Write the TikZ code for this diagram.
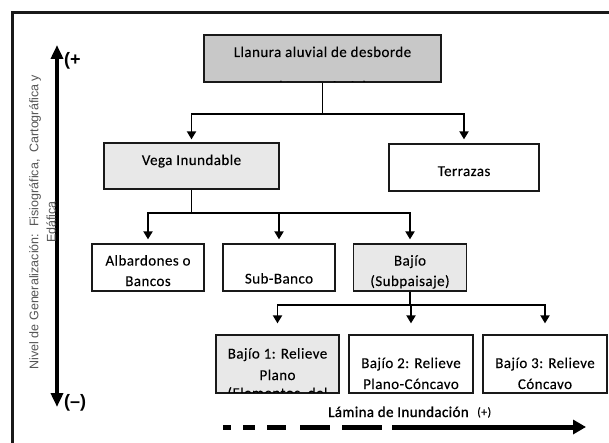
\documentclass[tikz,border=0pt]{standalone}
\usepackage{fontspec}
\setmainfont{Carlito}
\newfontfamily\boxfont{Carlito}[LetterSpace=3, FakeBold=0.15]
\newfontfamily\sheetfont{Carlito}[LetterSpace=2.5, FakeBold=1.3]
\newfontfamily\axisfont{Liberation Sans}
\usetikzlibrary{arrows.meta,calc}

\definecolor{graybox}{RGB}{200,200,200}
\definecolor{lightbox}{RGB}{232,232,232}
\definecolor{edge}{RGB}{25,25,25}
\definecolor{labelgray}{RGB}{85,85,85}

\tikzset{
  box/.style={draw=edge, line width=1.2pt, inner sep=0pt, fill=white},
  txt/.style={font=\boxfont\fontsize{15}{18}\selectfont, anchor=base, inner sep=0pt, text=black},
  conn/.style={line width=1.8pt, draw=black},
  arr/.style={conn, -{Triangle[width=9pt,length=8pt]}},
  frameline/.style={line width=3pt, draw=edge},
  axistext/.style={font=\axisfont\fontsize{12.5}{14}\selectfont, text=labelgray, rotate=90, inner sep=0pt},
  signtext/.style={font=\axisfont\bfseries\fontsize{18}{20}\selectfont, anchor=west, inner sep=0pt},
}

\begin{document}
\begin{tikzpicture}[x=1pt,y=-1pt]
\useasboundingbox (0,0) rectangle (609,443);
\fill[white] (0,0) rectangle (609,443);

% outer frame (open to the right and bottom)
\coordinate (fbot) at (12.5,443);
\coordinate (fcorner) at (12.5,13);
\coordinate (fright) at (609,13);
\draw[frameline] (fbot) -- (fcorner) -- (fright);

% ---------- boxes ----------
\node[box, fill=graybox, minimum width=237pt, minimum height=47pt] (top) at (322.5,58.5) {};
\node[box, fill=lightbox, minimum width=175pt, minimum height=46pt] (vega) at (191.5,166) {};
\node[box, minimum width=150pt, minimum height=47pt] (terr) at (464,167.5) {};
\node[box, minimum width=112pt, minimum height=47pt] (alb) at (148,267.5) {};
\node[box, minimum width=112pt, minimum height=47pt] (sub) at (279,267.5) {};
\node[box, fill=lightbox, minimum width=113pt, minimum height=47pt] (baj) at (410,267.5) {};
\node[box, fill=lightbox, minimum width=123pt, minimum height=58pt] (b1) at (277.5,364) {};
\node[box, minimum width=124pt, minimum height=58pt] (b2) at (411,364) {};
\node[box, minimum width=124pt, minimum height=58pt] (b3) at (545,364) {};

% ---------- box texts ----------
\node[txt] (tTopA) at (322.5,57) {Llanura aluvial de desborde};
\begin{scope}
  \clip (top.north west) rectangle (top.south east);
  \node[txt] (tTopB) at (322.5,91.5) {(Gran Paisaje)};
\end{scope}
\draw[edge, line width=1.2pt] (top.south west) -- (top.south east);

\node[txt] (tVegaA) at (191.5,165) {Vega Inundable};
\begin{scope}
  \clip (vega.north west) rectangle (vega.south east);
  \node[txt] (tVegaB) at (191.5,200) {(Paisaje)};
\end{scope}
\draw[edge, line width=1.2pt] (vega.south west) -- (vega.south east);

\node[txt] (tTerr) at (464,176) {Terrazas};
\node[txt] (tAlbA) at (148,265.5) {Albardones o};
\node[txt] (tAlbB) at (148,286) {Bancos};
\node[txt] (tSub) at (279,283.5) {Sub-Banco};
\node[txt] (tBajA) at (410,265.5) {Bajío};
\node[txt] (tBajB) at (410,286) {(Subpaisaje)};

\node[txt] (tB1A) at (277.5,358.5) {Bajío 1: Relieve};
\node[txt] (tB1B) at (277.5,380) {Plano};
\begin{scope}
  \clip (b1.north west) rectangle (b1.south east);
  \node[txt] (tB1C) at (277.5,398) {(Elementos\ \ del};
\end{scope}
\draw[edge, line width=1.2pt] (b1.south west) -- (b1.south east);

\node[txt] (tB2A) at (411,368) {Bajío 2: Relieve};
\node[txt] (tB2B) at (411,389) {Plano-Cóncavo};
\node[txt] (tB3A) at (545,368) {Bajío 3: Relieve};
\node[txt] (tB3B) at (545,389) {Cóncavo};

% ---------- connectors ----------
\coordinate (j1) at (top.south |- 0,114);
\draw[conn] (top.south) -- (j1);
\draw[arr] (j1) -| ([yshift=3pt]vega.north);
\draw[arr] (j1) -| ([yshift=4pt]terr.north);

\coordinate (j2) at (vega.south |- 0,213);
\draw[conn] (vega.south) -- (j2);
\draw[arr] (j2) -| ([yshift=4pt]alb.north);
\draw[arr] (j2) -| ([yshift=4pt]sub.north);
\draw[arr] (j2) -| ([yshift=4pt]baj.north);

\coordinate (j3) at (baj.south |- 0,305);
\draw[conn] (baj.south) -- (j3);
\draw[arr] (j3) -| ([yshift=11pt]b1.north);
\draw[arr] (j3) -| ([yshift=11pt]b2.north);
\draw[arr] (j3) -| ([yshift=11pt]b3.north);

% ---------- generalisation axis ----------
\coordinate (vtop) at (57,45);
\coordinate (vbot) at (57,407);
\draw[line width=4pt, {Triangle[width=12pt,length=14pt]}-{Triangle[width=12pt,length=14pt]}] (vtop) -- (vbot);
\node[signtext] (plus) at (64,61) {(+};
\node[signtext] (minus) at (64,403) {(–)};
\node[axistext] (axlabA) at (35,222) {Nivel de Generalización:\ \ Fisiográfica,\ \ Cartográfica y};
\node[axistext] (axlabB) at (51,222) {Edáfica};

% ---------- flooding sheet arrow ----------
\coordinate (lamS) at (223,427);
\coordinate (lamE) at (586,427);
\draw[line width=5pt, dash pattern=on 8pt off 12pt on 12pt off 12pt on 19pt off 14pt on 30pt off 12pt on 40pt off 10pt on 400pt,
      -{Triangle[width=14pt,length=13pt]}] (lamS) -- (lamE);
\node[font=\sheetfont\fontsize{15}{17}\selectfont, anchor=base west, inner sep=0pt] (lam) at (328,417) {Lámina de Inundación};
\node[font=\boxfont\fontsize{12}{14}\selectfont, anchor=base west, inner sep=0pt] (lamp) at (477,416) {(+)};
\end{tikzpicture}
\end{document}
